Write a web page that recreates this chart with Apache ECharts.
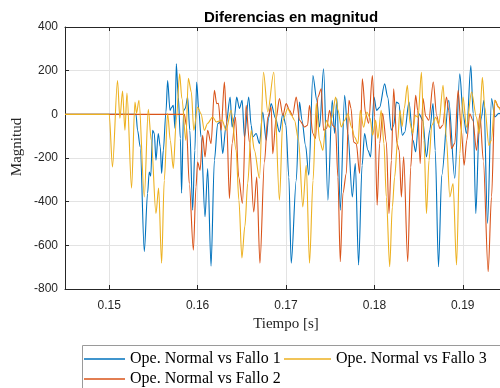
<!DOCTYPE html>
<html>
<head>
<meta charset="utf-8">
<script src="https://cdn.jsdelivr.net/npm/echarts@6/dist/echarts.min.js"></script>
<style>html,body{margin:0;padding:0;background:#fff;}#c{width:500px;height:388px;}</style>
</head>
<body>
<div id="c"></div>
<script>
const seriesNames = ['Ope. Normal vs Fallo 1', 'Ope. Normal vs Fallo 2', 'Ope. Normal vs Fallo 3'];
const seriesColors = ['#0072BD', '#D95319', '#EDB120'];
const yAxisTitle = 'Magnitud';
const xAxisTitle = 'Tiempo [s]';

const tBlue = [0.145,0.15303,0.15321,0.15351,0.15397,0.15434,0.15453,0.15470,0.15491,0.15510,0.15529,0.15555,0.15578,0.15593,0.15612,0.15642,0.15661,0.15688,0.15706,0.15725,0.15744,0.15759,0.15782,0.15805,0.15819,0.15842,0.15861,0.15887,0.15912,0.15944,0.15969,0.15989,0.16014,0.16039,0.16084,0.16114,0.16152,0.16190,0.16227,0.16254,0.16284,0.16322,0.16368,0.16390,0.16416,0.16442,0.16473,0.16504,0.16530,0.16578,0.16606,0.16624,0.16662,0.16700,0.16737,0.16776,0.16802,0.16832,0.16881,0.16926,0.16964,0.16999,0.17032,0.17059,0.17116,0.17153,0.17181,0.17221,0.17258,0.17304,0.17349,0.17380,0.17425,0.17474,0.17523,0.17550,0.17576,0.17614,0.17663,0.17700,0.17750,0.17784,0.17821,0.17861,0.17889,0.17927,0.17957,0.17995,0.18025,0.18059,0.18116,0.18150,0.18192,0.18218,0.18249,0.18275,0.18317,0.18343,0.18391,0.18437,0.18467,0.18505,0.18547,0.18589,0.18626,0.18663,0.18688,0.18725,0.18762,0.18841,0.18909,0.18966,0.19003,0.19042,0.19091,0.19117,0.19147,0.19185,0.19212,0.19238,0.19280,0.19325,0.19362,0.19408,0.19500];
const vBlue = [0,0,-73,-149,-629,-362,-264,-283,-73,-87,-210,-88,-149,-271,-165,11,155,18,32,41,-64,232,79,-110,-361,18,27,79,-73,-439,-165,148,18,-104,-469,-248,-695,-210,-43,-35,-180,-50,79,-58,-14,79,27,64,-104,79,-50,-104,-88,-134,11,-119,-18,49,-18,-81,3,-50,-287,-682,-302,56,-27,-142,-279,178,64,-58,209,-393,64,-87,72,-439,87,-88,-378,-225,-690,-233,-88,-165,-195,79,18,32,140,79,-73,-50,56,50,-96,-82,56,-119,-172,3,-27,-195,-73,49,-165,-698,-279,64,-293,186,3,-88,224,3,-454,-73,-12,64,-500,72,-12,5,-27];

const tRed = [0.145,0.15850,0.15873,0.15906,0.15952,0.15982,0.16000,0.16028,0.16057,0.16084,0.16114,0.16152,0.16190,0.16216,0.16235,0.16266,0.16303,0.16329,0.16360,0.16390,0.16428,0.16465,0.16507,0.16549,0.16586,0.16635,0.16669,0.16705,0.16756,0.16794,0.16832,0.16850,0.16889,0.16926,0.16964,0.17002,0.17040,0.17074,0.17116,0.17153,0.17210,0.17244,0.17266,0.17304,0.17334,0.17361,0.17399,0.17425,0.17459,0.17493,0.17527,0.17561,0.17587,0.17614,0.17644,0.17682,0.17712,0.17736,0.17765,0.17795,0.17833,0.17863,0.17901,0.17935,0.17977,0.18003,0.18031,0.18059,0.18093,0.18135,0.18165,0.18192,0.18218,0.18255,0.18280,0.18305,0.18331,0.18377,0.18411,0.18437,0.18467,0.18490,0.18518,0.18550,0.18581,0.18615,0.18666,0.18705,0.18739,0.18773,0.18815,0.18841,0.18872,0.18909,0.18947,0.18983,0.19015,0.19045,0.19079,0.19113,0.19155,0.19193,0.19232,0.19287,0.19325,0.19363,0.19408,0.19453];
const vRed = [0,0,-50,-317,-622,-332,-218,-256,-96,-195,-73,-134,110,49,50,-73,148,-35,-385,-134,-12,-287,-408,41,-127,-447,-287,-682,-219,-12,33,-180,-18,72,-5,49,18,-5,79,-27,-58,-50,41,-88,-111,79,117,-73,-64,18,-50,-64,-287,-675,-362,-271,64,27,-127,-134,-271,163,3,-41,178,-12,-416,-134,5,-127,-454,-210,117,-134,-165,-378,-195,-675,-241,-73,87,18,-225,72,-9,-27,148,-5,-65,-50,79,18,-157,-133,110,-73,-233,-119,3,-27,-165,3,-210,-721,-378,64,32,-5];

const tYellow = [0.145,0.15000,0.15037,0.15094,0.15121,0.15151,0.15178,0.15201,0.15253,0.15291,0.15309,0.15337,0.15397,0.15442,0.15476,0.15529,0.15559,0.15593,0.15623,0.15661,0.15691,0.15725,0.15759,0.15797,0.15822,0.15867,0.15895,0.15929,0.15957,0.16000,0.16039,0.16076,0.16114,0.16171,0.16212,0.16277,0.16322,0.16379,0.16436,0.16467,0.16501,0.16535,0.16567,0.16606,0.16643,0.16700,0.16745,0.16794,0.16862,0.16926,0.16964,0.17020,0.17062,0.17096,0.17142,0.17190,0.17229,0.17266,0.17306,0.17342,0.17380,0.17417,0.17455,0.17493,0.17523,0.17561,0.17589,0.17625,0.17663,0.17700,0.17742,0.17776,0.17814,0.17841,0.17878,0.17915,0.17952,0.17980,0.18014,0.18040,0.18076,0.18108,0.18135,0.18173,0.18203,0.18229,0.18263,0.18289,0.18314,0.18337,0.18373,0.18403,0.18433,0.18462,0.18494,0.18532,0.18561,0.18589,0.18618,0.18649,0.18694,0.18728,0.18777,0.18813,0.18853,0.18890,0.18929,0.18966,0.19003,0.19042,0.19099,0.19155,0.19185,0.19221,0.19249,0.19295,0.19323,0.19363,0.19402,0.19453];
const vYellow = [0,0,-241,155,-18,107,-73,97,-338,56,5,64,-378,23,-119,-454,-338,-682,-302,5,-119,-248,-27,186,73,-119,165,102,-73,33,3,-73,-41,-12,-35,-27,-73,18,-165,-393,-658,-512,-315,-73,-165,-293,193,11,193,-393,-27,27,-5,-27,-119,-424,-233,-682,-302,50,-119,-165,-27,-59,-9,79,18,-58,-27,3,-59,-104,-134,18,-59,11,-18,-96,-27,-111,18,-134,-378,-698,-424,-287,-119,18,-55,26,133,-41,-87,-5,-14,193,-119,-454,-210,-50,-14,-46,133,-104,-378,-317,-690,-180,79,-59,102,-14,-88,170,32,-142,-119,64,32,-14];

const xMin = 0.145, xMax = 0.195;
const yMin = -800, yMax = 400, yStep = 200;

function pairs(t, v) { return t.map((x, i) => [x, v[i]]); }
const seriesData = [pairs(tBlue, vBlue), pairs(tRed, vRed), pairs(tYellow, vYellow)];

const axisColor = '#262626';
const gridColor = '#e3e3e3';
const labelFont = 'Liberation Sans';
const serif = 'Liberation Serif';

const chart = echarts.init(document.getElementById('c'), null, {renderer: 'canvas'});
const legendText = {fontFamily: serif, fontSize: 16, color: '#000'};
chart.setOption({
  animation: false,
  backgroundColor: '#fff',
  title: {
    text: 'Diferencias en magnitud',
    left: 286, top: 5, textAlign: 'center',
    textStyle: {fontFamily: labelFont, fontSize: 15, fontWeight: 'bold', color: '#000'}
  },
  grid: {left: 65, top: 27, width: 442, height: 262, containLabel: false, outerBoundsMode: 'none'},
  xAxis: [{
    type: 'value', min: xMin, max: xMax, splitNumber: 5, position: 'bottom',
    name: xAxisTitle, nameLocation: 'middle', nameGap: 24,
    nameTextStyle: {fontFamily: serif, fontSize: 15, color: axisColor},
    axisLine: {show: true, onZero: false, lineStyle: {color: axisColor, width: 1}},
    axisTick: {show: true, inside: true, length: 4, lineStyle: {color: axisColor}},
    axisLabel: {showMinLabel: false, showMaxLabel: false, margin: 11, fontFamily: labelFont, fontSize: 12, color: axisColor,
      formatter: v => v.toFixed(2)},
    splitLine: {show: true, lineStyle: {color: gridColor, width: 1}}
  }, {
    type: 'value', min: xMin, max: xMax, splitNumber: 5, position: 'top',
    axisLine: {show: true, onZero: false, lineStyle: {color: axisColor, width: 1}},
    axisTick: {show: true, inside: true, length: 4, lineStyle: {color: axisColor}},
    axisLabel: {show: false}, splitLine: {show: false}
  }],
  yAxis: {
    type: 'value', min: yMin, max: yMax, interval: yStep,
    axisLine: {show: true, onZero: false, lineStyle: {color: axisColor, width: 1}},
    axisTick: {show: true, inside: true, length: 4, lineStyle: {color: axisColor}},
    axisLabel: {margin: 7, fontFamily: labelFont, fontSize: 12, color: axisColor},
    splitLine: {show: true, lineStyle: {color: gridColor, width: 1}}
  },
  legend: [
    {data: [seriesNames[0]], left: 84, top: 351, padding: 0, icon: 'rect', itemWidth: 41, itemHeight: 1.5, textStyle: legendText, selectedMode: false},
    {data: [seriesNames[2]], left: 284, top: 351, padding: 0, icon: 'rect', itemWidth: 47, itemHeight: 1.5, textStyle: legendText, selectedMode: false},
    {data: [seriesNames[1]], left: 84, top: 371, padding: 0, icon: 'rect', itemWidth: 41, itemHeight: 1.5, textStyle: legendText, selectedMode: false}
  ],
  graphic: [{
    type: 'rect', z: 1, silent: true,
    shape: {x: 82.5, y: 345.5, width: 460, height: 60},
    style: {fill: '#fff', stroke: '#9a9a9a', lineWidth: 1}
  }, {
    type: 'text', silent: true, x: 17, y: 147, rotation: Math.PI / 2,
    style: {text: yAxisTitle, font: '15px "Liberation Serif"', fill: axisColor, align: 'center', verticalAlign: 'middle'}
  }],
  series: seriesData.map((d, i) => ({
    name: seriesNames[i], type: 'line', data: d,
    xAxisIndex: 0, yAxisIndex: 0,
    showSymbol: false, symbol: 'none', smooth: 0.3, smoothMonotone: 'x',
    lineStyle: {color: seriesColors[i], width: 1.1},
    itemStyle: {color: seriesColors[i]},
    clip: true, z: 2 + i
  }))
});
</script>
</body>
</html>
